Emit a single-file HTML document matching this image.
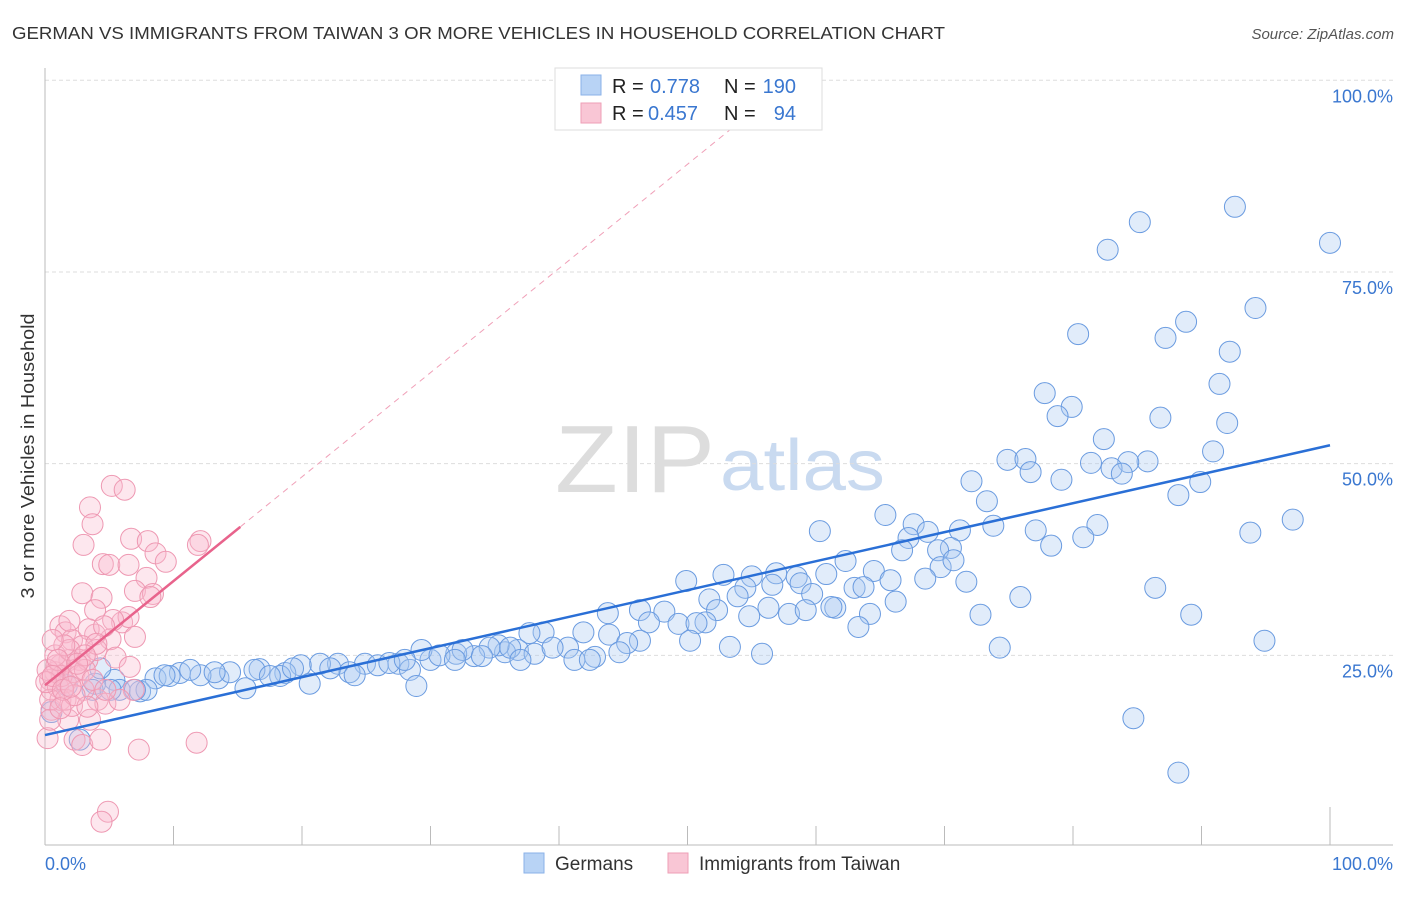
<!DOCTYPE html>
<html><head><meta charset="utf-8"><style>
body{margin:0;background:#fff;font-family:"Liberation Sans",sans-serif;}
svg text{font-family:"Liberation Sans",sans-serif;}
</style></head><body>
<svg width="1406" height="892" xmlns="http://www.w3.org/2000/svg">
<text x="12" y="39" font-size="17.5" fill="#333" textLength="933" lengthAdjust="spacingAndGlyphs">GERMAN VS IMMIGRANTS FROM TAIWAN 3 OR MORE VEHICLES IN HOUSEHOLD CORRELATION CHART</text>
<text x="1394" y="39" font-size="15" fill="#555" font-style="italic" text-anchor="end">Source: ZipAtlas.com</text>
<g>
<text x="555" y="492" font-size="96" fill="#ddd" font-family="Liberation Serif" textLength="160" lengthAdjust="spacingAndGlyphs">ZIP</text>
<text x="720" y="490" font-size="72" fill="#c9daf0" textLength="165" lengthAdjust="spacingAndGlyphs">atlas</text>
</g>
<g id="grid"></g>
<g id="axes"></g>
<g id="marks"></g>
<g id="lines"></g>
<g>
<rect x="555" y="68" width="267" height="62" fill="#fff" stroke="#ddd"/>
<rect x="581" y="75" width="20" height="20" fill="#b8d3f5" stroke="#8ab2e8"/>
<text x="612" y="93" font-size="20" fill="#222">R =</text>
<text x="650" y="93" font-size="20" fill="#3a77d0">0.778</text>
<text x="724" y="93" font-size="20" fill="#222">N =</text>
<text x="796" y="93" font-size="20" fill="#3a77d0" text-anchor="end">190</text>
<rect x="581" y="103" width="20" height="20" fill="#f9c6d5" stroke="#ee9fb6"/>
<text x="612" y="120" font-size="20" fill="#222">R =</text>
<text x="648" y="120" font-size="20" fill="#3a77d0">0.457</text>
<text x="724" y="120" font-size="20" fill="#222">N =</text>
<text x="796" y="120" font-size="20" fill="#3a77d0" text-anchor="end">94</text>
</g>
<g>
<rect x="524" y="853" width="20" height="20" fill="#b8d3f5" stroke="#8ab2e8"/>
<text x="555" y="870" font-size="19" fill="#333">Germans</text>
<rect x="668" y="853" width="20" height="20" fill="#f9c6d5" stroke="#ee9fb6"/>
<text x="699" y="870" font-size="19" fill="#333">Immigrants from Taiwan</text>
</g>
<text x="34" y="456" font-size="18.5" fill="#333" transform="rotate(-90 34 456)" text-anchor="middle" textLength="285" lengthAdjust="spacingAndGlyphs">3 or more Vehicles in Household</text>
</svg>
<script>
const yTicks=[25,50,75,100];
const yTickLabels=["25.0%","50.0%","75.0%","100.0%"];
const xTicks=[0,10,20,30,40,50,60,70,80,90,100];
const xTickLabels=["0.0%","100.0%"];
const blueX=[100,92.6,85.2,82.7,94.2,80.4,88.8,87.2,92.2,91.4,77.8,79.9,78.8,86.8,92.0,82.4,90.9,74.9,76.3,81.4,85.8,84.3,83.0,83.8,76.7,79.1,72.1,89.9,88.2,73.3,81.9,80.8,78.3,65.4,67.6,68.7,67.2,71.2,73.8,77.1,70.5,69.5,66.7,64.5,62.3,60.3,69.7,70.7,65.8,68.5,71.7,60.8,63.0,58.5,56.9,55.0,49.9,52.8,54.5,56.6,58.8,59.7,61.5,63.7,64.2,66.2,53.9,51.7,52.3,51.4,56.3,57.9,59.2,61.2,72.8,75.9,54.8,63.3,48.2,43.8,46.3,47.0,49.3,50.7,50.2,46.3,86.4,89.2,93.8,97.1,94.9,74.3,84.7,88.2,53.3,55.8,41.9,43.9,45.3,44.7,42.8,40.7,38.8,37.7,36.8,35.8,35.3,34.6,33.4,32.0,30.0,27.5,24.9,22.8,21.4,19.9,18.7,16.7,15.6,13.5,12.1,10.5,8.6,7.4,5.4,3.9,4.3,1.7,0.5,2.7,3.7,5.8,7.9,9.7,11.3,14.4,16.3,18.3,20.6,22.2,23.7,25.9,26.8,28.4,28.9,29.3,30.7,32.5,34.0,36.2,38.1,39.5,41.2,42.4,37.0,31.9,28.0,24.1,19.3,17.5,13.2,9.3,7.0,5.1];
const blueY=[78.8,83.5,81.5,77.9,70.3,66.9,68.5,66.4,64.6,60.4,59.2,57.4,56.2,56.0,55.3,53.2,51.6,50.5,50.6,50.1,50.3,50.2,49.4,48.7,48.9,47.9,47.7,47.6,45.9,45.1,42.0,40.4,39.3,43.3,42.1,41.1,40.3,41.3,41.9,41.3,39.0,38.7,38.7,36.0,37.3,41.2,36.5,37.4,34.8,35.0,34.6,35.6,33.8,35.2,35.7,35.3,34.7,35.5,33.8,34.2,34.4,33.0,31.2,33.9,30.4,32.0,32.7,32.3,30.9,29.3,31.2,30.4,30.9,31.3,30.3,32.6,30.1,28.7,30.7,30.5,30.9,29.3,29.1,29.2,26.9,26.9,33.8,30.3,41.0,42.7,26.9,26.0,16.8,9.7,26.1,25.2,28.0,27.7,26.6,25.4,24.8,26.0,28.0,27.9,25.7,25.4,26.3,26.0,24.9,25.2,24.4,23.9,23.9,23.9,23.9,23.7,22.7,23.2,20.7,22.0,22.4,22.7,22.0,20.3,21.8,21.3,23.3,21.1,17.6,14.0,20.5,20.5,20.5,22.3,23.1,22.8,23.1,22.3,21.3,23.3,22.8,23.7,24.0,23.1,21.0,25.7,25.0,25.7,24.9,26.0,25.2,26.0,24.4,24.4,24.4,24.4,24.4,22.4,23.3,22.3,22.8,22.4,20.5,20.5];
const pinkX=[5.2,6.2,3.5,3.7,3.0,6.7,8.0,8.6,4.5,5.0,9.4,12.1,11.9,6.5,7.9,7.0,8.4,2.9,4.4,3.9,8.2,6.0,6.5,5.3,5.1,7.0,1.2,1.6,2.1,3.9,3.4,4.6,2.9,2.7,1.9,1.2,0.8,0.4,0.5,1.0,1.6,2.3,3.3,4.0,5.5,6.6,0.5,0.2,1.8,2.3,3.5,2.9,4.1,4.7,1.2,0.4,0.9,1.3,0.2,0.8,2.6,3.0,1.6,2.1,3.3,4.3,7.3,11.8,4.9,4.4,6.9,0.4,1.9,1.5,1.0,5.8,2.3,3.1,0.1,0.6,1.4,3.7,2.0,1.2,0.6,1.9,4.0,3.1,4.7,2.5];
const pinkY=[47.1,46.6,44.3,42.1,39.4,40.2,39.9,38.3,36.9,36.8,37.2,39.9,39.4,36.8,35.1,33.4,33.0,33.1,32.5,30.9,32.6,29.3,30.0,29.6,27.1,27.4,28.8,28.0,27.0,27.7,28.4,28.8,26.2,24.4,24.4,23.7,22.8,21.8,20.5,20.9,21.5,22.8,24.4,25.7,24.7,23.5,17.9,14.2,16.6,14.0,16.6,13.3,19.2,18.7,19.2,19.2,23.7,22.3,23.1,25.0,22.3,20.5,19.2,18.4,18.3,14.0,12.7,13.6,4.6,3.3,20.5,16.6,25.7,26.3,24.4,19.2,19.8,23.1,21.5,22.3,20.5,21.8,20.9,18.1,27.0,29.5,26.5,25.0,20.5,23.9];
const blueFit=[14.6,52.4];
const pinkFit=[21.1,157.0];
const pinkSolidEnd=15.2;

const NS="http://www.w3.org/2000/svg";
const X=v=>45+v*12.85;
const Y=v=>847-v*7.667;
function mk(tag,attrs,parent){const e=document.createElementNS(NS,tag);for(const k in attrs)e.setAttribute(k,attrs[k]);parent.appendChild(e);return e;}
const grid=document.getElementById('grid'),axes=document.getElementById('axes'),marks=document.getElementById('marks'),lines=document.getElementById('lines');
yTicks.forEach((t,i)=>{
 const l=mk('line',{x1:45,x2:1393,y1:Y(t),y2:Y(t),stroke:'#ddd','stroke-dasharray':'4,3'},grid);
 
 
 const tx=mk('text',{x:1393,y:Y(t)+22,'font-size':18,fill:'#3a77d0','text-anchor':'end'},axes);
 tx.textContent=yTickLabels[i];
 
 
});
const ax=mk('line',{x1:45,x2:1393,y1:845,y2:845,stroke:'#bbb'},axes);


const ay=mk('line',{x1:45,x2:45,y1:68,y2:845,stroke:'#bbb'},axes);


xTicks.forEach(t=>{
 const l=mk('line',{x1:X(t),x2:X(t),y1:t==100?807:826,y2:845,stroke:'#bbb'},axes);
 
 
});
const xl0=mk('text',{x:45,y:870,'font-size':18,fill:'#3a77d0'},axes);xl0.textContent=xTickLabels[0];


const xl1=mk('text',{x:1393,y:870,'font-size':18,fill:'#3a77d0','text-anchor':'end'},axes);xl1.textContent=xTickLabels[1];


blueX.forEach((v,i)=>{
 const c=mk('circle',{cx:X(v),cy:Y(blueY[i]),r:10.5,fill:'rgba(170,200,240,0.35)',stroke:'#6a9be0','stroke-width':1},marks);
 
 
});
pinkX.forEach((v,i)=>{
 const c=mk('circle',{cx:X(v),cy:Y(pinkY[i]),r:10.5,fill:'rgba(248,185,205,0.35)',stroke:'#ee98b2','stroke-width':1},marks);
 
 
});
const bl=mk('line',{x1:X(0),y1:Y(blueFit[0]),x2:X(100),y2:Y(blueFit[1]),stroke:'#2a6fd6','stroke-width':2.5},lines);


const ps=(pinkFit[1]-pinkFit[0])/100;
const pinkAt=x=>pinkFit[0]+ps*x;
const xTop=(100-pinkFit[0])/ps;
const pd=mk('line',{x1:X(pinkSolidEnd),y1:Y(pinkAt(pinkSolidEnd)),x2:X(xTop),y2:Y(100),stroke:'#f0a0b8','stroke-width':1,'stroke-dasharray':'6,5'},lines);


const pl=mk('line',{x1:X(0),y1:Y(pinkAt(0)),x2:X(pinkSolidEnd),y2:Y(pinkAt(pinkSolidEnd)),stroke:'#e8638c','stroke-width':2.5},lines);


</script>
</body></html>
